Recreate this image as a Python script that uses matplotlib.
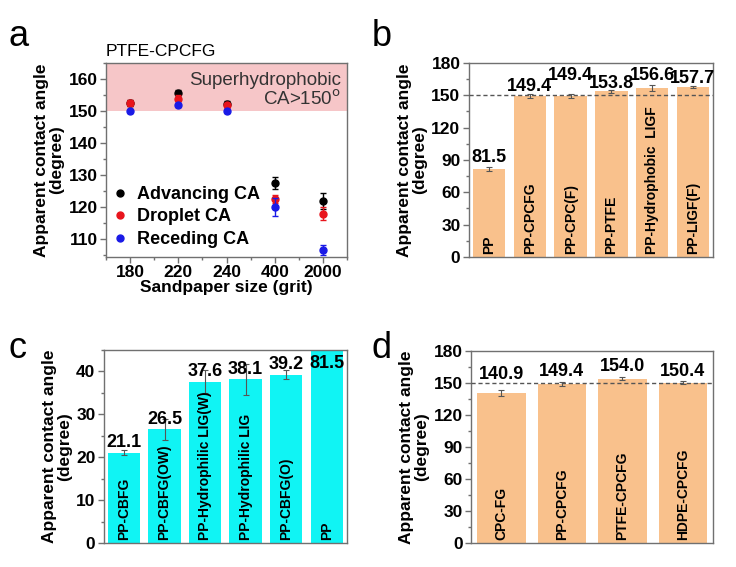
import matplotlib.pyplot as plt
from matplotlib.lines import Line2D
from matplotlib.ticker import MultipleLocator, AutoMinorLocator

plt.rcParams["font.family"] = ["Liberation Sans", "DejaVu Sans"]

# --- panel a data ---
grit_labels = ["180", "220", "240", "400", "2000"]
advancing = [152.5, 155.5, 152.3, 127.5, 122.0]
advancing_err = [0.8, 1.0, 0.8, 1.8, 2.5]
droplet = [152.5, 153.8, 151.8, 122.5, 118.0]
droplet_err = [0.8, 1.2, 0.8, 1.2, 2.0]
receding = [150.0, 152.0, 150.0, 120.0, 106.7]
receding_err = [0.5, 0.6, 0.5, 2.8, 1.5]

# --- panel b data ---
b_names = ["PP", "PP-CPCFG", "PP-CPC(F)", "PP-PTFE", "PP-Hydrophobic  LIGF", "PP-LIGF(F)"]
b_values = [81.5, 149.4, 149.4, 153.8, 156.6, 157.7]
b_err = [1.5, 2.0, 1.5, 1.5, 3.0, 1.0]

# --- panel c data ---
c_names = ["PP-CBFG", "PP-CBFG(OW)", "PP-Hydrophilic LIG(W)", "PP-Hydrophilic LIG",
           "PP-CBFG(O)", "PP"]
c_values = [21.1, 26.5, 37.6, 38.1, 39.2, 81.5]
c_err = [0.5, 2.5, 2.7, 3.5, 1.0, 0.0]

# --- panel d data ---
d_names = ["CPC-FG", "PP-CPCFG", "PTFE-CPCFG", "HDPE-CPCFG"]
d_values = [140.9, 149.4, 154.0, 150.4]
d_err = [3.0, 2.0, 1.5, 1.5]

orange = "#F9C18C"
cyan = "#10F4F4"
spine_col = "#707070"

fig = plt.figure(figsize=(7.36, 5.67), dpi=100)
ax_a = fig.add_axes([0.144, 0.547, 0.3275, 0.342])
ax_b = fig.add_axes([0.637, 0.547, 0.332, 0.342])
ax_c = fig.add_axes([0.141, 0.042, 0.3305, 0.341])
ax_d = fig.add_axes([0.640, 0.042, 0.329, 0.339])


def style_axes(ax):
    for s in ax.spines.values():
        s.set_color(spine_col)
        s.set_linewidth(1.0)
    ax.tick_params(axis="both", direction="out", length=4, width=1, color=spine_col,
                   labelsize=12.5, pad=2)
    ax.tick_params(axis="both", which="minor", direction="out", length=2, width=1,
                   color=spine_col)
    for lab in ax.get_yticklabels() + ax.get_xticklabels():
        lab.set_fontweight("bold")
    ax.set_ylabel("Apparent contact angle\n(degree)", fontsize=12.5, fontweight="bold",
                  linespacing=1.0, labelpad=3)


# ---------------- panel a ----------------
xa = list(range(len(grit_labels)))
ax_a.axhspan(150, 165, color="#F5C0C2", alpha=0.9, zorder=0, lw=0)
ax_a.errorbar(xa, advancing, yerr=advancing_err, fmt="o", color="black", ms=5,
              capsize=2, elinewidth=1, zorder=3)
ax_a.errorbar(xa, droplet, yerr=droplet_err, fmt="o", color="#E8141C", ms=5,
              capsize=2, elinewidth=1, zorder=4)
ax_a.errorbar(xa, receding, yerr=receding_err, fmt="o", color="#1A1AE6", ms=5,
              capsize=2, elinewidth=1, zorder=5)
ax_a.set_xlim(-0.5, 4.5)
ax_a.set_ylim(104.5, 165)
ax_a.set_xticks(xa)
ax_a.set_xticklabels(grit_labels)
ax_a.xaxis.set_minor_locator(MultipleLocator(0.5))
ax_a.yaxis.set_major_locator(MultipleLocator(10))
ax_a.yaxis.set_minor_locator(MultipleLocator(5))
style_axes(ax_a)
ax_a.set_xlabel("Sandpaper size (grit)", fontsize=12.5, fontweight="bold", labelpad=0)
ax_a.text(0.975, 0.955, "Superhydrophobic\nCA>150$^{\\mathrm{o}}$", transform=ax_a.transAxes,
          ha="right", va="top", fontsize=13.5, color="#333333", linespacing=1.05)
ax_a.text(0.0, 1.02, "PTFE-CPCFG", transform=ax_a.transAxes, ha="left", va="bottom",
          fontsize=12.5)
handles = [Line2D([], [], ls="none", marker="o", ms=5, color=c)
           for c in ["black", "#E8141C", "#1A1AE6"]]
ax_a.legend(handles, ["Advancing CA", "Droplet CA", "Receding CA"], loc="lower left",
            frameon=False, handlelength=0.6, handletextpad=0.6, borderaxespad=0.1,
            labelspacing=0.3, prop={"weight": "bold", "size": 13})


def bar_panel(ax, names, values, errs, color, ylim, label_y, ytick_step):
    x = list(range(len(names)))
    ax.bar(x, values, width=0.8, color=color, yerr=errs, capsize=2,
           error_kw={"elinewidth": 0.8, "ecolor": "#555555", "capthick": 0.8}, zorder=2)
    ax.set_xlim(-0.5, len(names) - 0.5)
    ax.set_ylim(*ylim)
    ax.set_xticks([])
    ax.yaxis.set_major_locator(MultipleLocator(ytick_step))
    ax.yaxis.set_minor_locator(AutoMinorLocator(2))
    style_axes(ax)
    for xi, name, v, ly in zip(x, names, values, label_y):
        ax.text(xi, ylim[0] + (ylim[1] - ylim[0]) * 0.015, name, rotation=90,
                ha="center", va="bottom", fontsize=10, fontweight="bold", zorder=4)
        ax.text(xi, ly, f"{v:.1f}", ha="center", va="center", fontsize=13,
                fontweight="bold", zorder=4)


# ---------------- panel b ----------------
b_label_y = [92.5, 158, 168, 161, 168, 166]
bar_panel(ax_b, b_names, b_values, b_err, orange, (0, 180), b_label_y, 30)
ax_b.axhline(150, color="#555555", ls=(0, (3, 2)), lw=1, zorder=3)

# ---------------- panel c ----------------
c_label_y = [min(v + 2.4, 41.9) for v in c_values]
bar_panel(ax_c, c_names, c_values, c_err, cyan, (0, 45), c_label_y, 10)

# ---------------- panel d ----------------
d_label_y = [157.5, 161, 165, 161]
bar_panel(ax_d, d_names, d_values, d_err, orange, (0, 180), d_label_y, 30)
ax_d.axhline(150, color="#555555", ls=(0, (3, 2)), lw=1, zorder=3)

# panel letters
for lbl, (px, py) in zip("abcd", [(0.012, 0.905), (0.505, 0.905), (0.012, 0.355), (0.505, 0.355)]):
    fig.text(px, py, lbl, fontsize=26, ha="left", va="bottom")

fig.savefig("out.png", dpi=100)
